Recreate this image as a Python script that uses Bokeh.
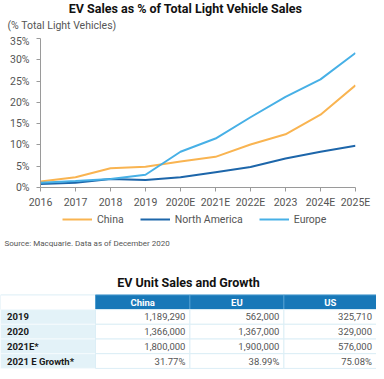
from bokeh.plotting import figure
from bokeh.models import (Range1d, FixedTicker, PrintfTickFormatter, Legend, LegendItem)
from bokeh.layouts import column
from bokeh.embed import file_html
from bokeh.resources import INLINE
from bokeh.core.properties import value

# ---------------- data ----------------
years = ["2016", "2017", "2018", "2019", "2020E", "2021E", "2022E", "2023", "2024E", "2025E"]
china = [1.4, 2.4, 4.5, 4.9, 6.1, 7.2, 10.1, 12.5, 17.1, 24.0]
north_america = [0.8, 1.1, 2.0, 1.75, 2.4, 3.6, 4.8, 6.8, 8.4, 9.8]
europe = [1.1, 1.5, 2.0, 3.0, 8.4, 11.5, 16.5, 21.3, 25.4, 31.6]
y_ticks = [0, 5, 10, 15, 20, 25, 30, 35]
series_names = ["China", "North America", "Europe"]

table_rows = ["2019", "2020", "2021E*", "2021 E Growth*"]
table_cols = ["China", "EU", "US"]
china_units = [1189290, 1366000, 1800000]
eu_units = [562000, 1367000, 1900000]
us_units = [325710, 329000, 576000]
growth_2021 = [31.77, 38.99, 75.08]

FONT = "Roboto"
COLORS = ["#F9B451", "#1D66AA", "#47B0E6"]
W = 376


def blank(h):
    f = figure(width=W, height=h, x_range=Range1d(0, W), y_range=Range1d(h, 0),
               output_backend="svg", toolbar_location=None, min_border=0,
               x_axis_location=None, y_axis_location=None)
    f.grid.visible = False
    f.outline_line_color = None
    f.frame_align = False
    return f


# ---------------- header ----------------
head = blank(34)
head.text(x=[185], y=[7.5], text=["EV Sales as % of Total Light Vehicle Sales"],
          text_align="center", text_baseline="middle", text_font=value(FONT),
          text_font_style="bold", text_font_size="12.5px", text_color="#111111")
head.text(x=[7], y=[24.5], text=["(% Total Light Vehicles)"], text_align="left",
          text_baseline="middle", text_font=value(FONT), text_font_size="10.5px",
          text_color="#555555")

# ---------------- chart ----------------
xs = list(range(len(years)))
p = figure(width=W, height=177, x_range=Range1d(0, len(years) - 1), y_range=Range1d(0, 35),
           output_backend="svg", toolbar_location=None,
           min_border_left=40, min_border_right=21, min_border_top=4, min_border_bottom=22)
p.outline_line_color = None
p.grid.visible = False
p.frame_align = False
for vals, c in zip([china, north_america, europe], COLORS):
    p.line(xs, vals, line_color=c, line_width=2)

for ax in (p.xaxis[0], p.yaxis[0]):
    ax.axis_line_color = "#9a9a9a"
    ax.major_tick_line_color = "#9a9a9a"
    ax.major_tick_out = 4
    ax.major_tick_in = 0
    ax.minor_tick_line_color = None
    ax.major_label_text_font = FONT
    ax.major_label_text_font_size = "10.5px"
    ax.major_label_text_color = "#555555"
p.xaxis[0].ticker = FixedTicker(ticks=xs)
p.xaxis[0].major_label_overrides = {i: y for i, y in zip(xs, years)}
p.xaxis[0].major_label_standoff = 4
p.yaxis[0].ticker = FixedTicker(ticks=y_ticks)
p.yaxis[0].formatter = PrintfTickFormatter(format="%d%%")
p.yaxis[0].major_label_standoff = 7

# ---------------- legend strip ----------------
leg = blank(20)
nan = float("nan")
proxies = [leg.line(x=[nan], y=[nan], line_color=c, line_width=2) for c in COLORS]
legend = Legend(items=[LegendItem(label=n, renderers=[r]) for n, r in zip(series_names, proxies)],
                orientation="horizontal", location=(62, 5), padding=0, margin=0,
                spacing=16, glyph_width=30, glyph_height=14, label_height=14,
                label_standoff=5, border_line_color=None, background_fill_alpha=0,
                label_text_font=FONT, label_text_font_size="10.5px",
                label_text_color="#555555")
leg.add_layout(legend, "center")

# ---------------- source + table ----------------
t = blank(140)
t.text(x=[4], y=[12], text=["Source: Macquarie. Data as of December 2020"], text_align="left",
       text_baseline="middle", text_font=value(FONT), text_font_size="8px",
       text_color="#555555")
t.text(x=[188], y=[50.7], text=["EV Unit Sales and Growth"], text_align="center",
       text_baseline="middle", text_font=value(FONT), text_font_style="bold",
       text_font_size="12.5px", text_color="#111111")

TOP = 63.4
HDR_H = 14.7
ROW_H = 14.7
col_edges = [0, 95, 189.4, 283.4, 376]

t.quad(left=[col_edges[0]], right=[col_edges[1]], top=[TOP], bottom=[TOP + HDR_H],
       fill_color="white", line_color="#DCEEF6", line_width=1)
hl = col_edges[1:-1]
hr = col_edges[2:]
t.quad(left=hl, right=hr, top=[TOP] * 3, bottom=[TOP + HDR_H] * 3,
       fill_color="#1878B8", line_color="#4E9DD0", line_width=1)
t.text(x=[(a + b) / 2 for a, b in zip(hl, hr)], y=[TOP + HDR_H / 2] * 3, text=table_cols,
       text_align="center", text_baseline="middle", text_font=value(FONT),
       text_font_style="bold", text_font_size="9.5px", text_color="white")

n = len(table_rows)
row_top = [TOP + HDR_H + i * ROW_H for i in range(n)]
row_bot = [v + ROW_H for v in row_top]
row_mid = [v + ROW_H / 2 for v in row_top]
t.quad(left=[col_edges[0]] * n, right=[col_edges[1]] * n, top=row_top, bottom=row_bot,
       fill_color="#E3F2F8", line_color="#F4FAFD", line_width=1)
t.text(x=[6.6] * n, y=row_mid, text=table_rows, text_align="left",
       text_baseline="middle", text_font=value(FONT), text_font_style="bold",
       text_font_size="9.5px", text_color="#1a1a1a")

cells = [[f"{v:,}" for v in china_units] + [f"{growth_2021[0]:.2f}%"],
         [f"{v:,}" for v in eu_units] + [f"{growth_2021[1]:.2f}%"],
         [f"{v:,}" for v in us_units] + [f"{growth_2021[2]:.2f}%"]]
for j in range(len(table_cols)):
    t.quad(left=[col_edges[j + 1]] * n, right=[col_edges[j + 2]] * n, top=row_top,
           bottom=row_bot, fill_color="white", line_color="#DCEEF6", line_width=1)
    t.text(x=[col_edges[j + 2] - 4.5] * n, y=row_mid, text=cells[j],
           text_align="right", text_baseline="middle", text_font=value(FONT),
           text_font_size="9.5px", text_color="#555555")

layout = column(head, p, leg, t, spacing=0)
open("out.html", "w").write(file_html(layout, INLINE))
